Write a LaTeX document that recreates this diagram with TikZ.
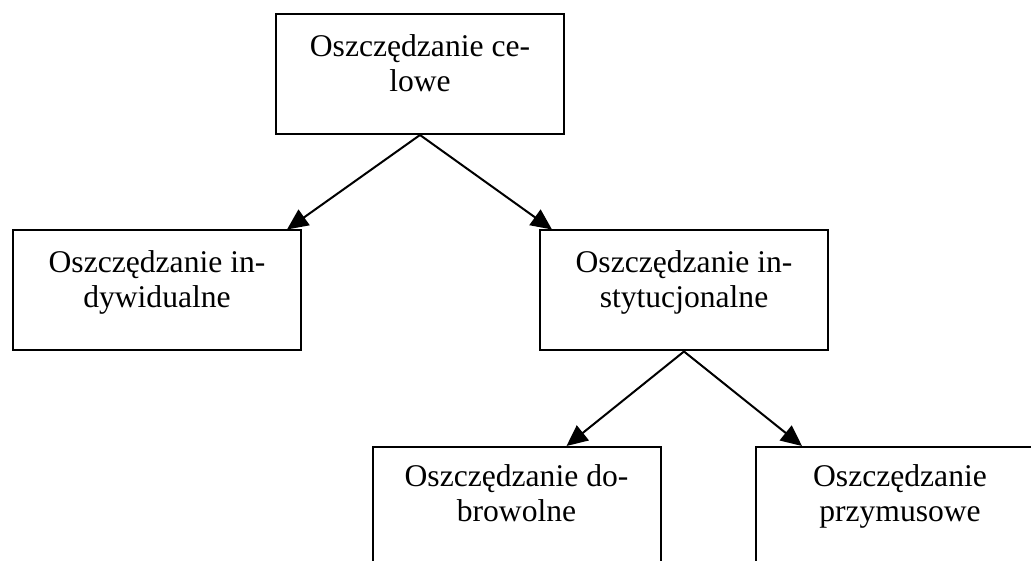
\documentclass[tikz,border=0pt]{standalone}
\usepackage{fontspec}
\setmainfont{Liberation Serif}
\usetikzlibrary{arrows.meta}
\tikzset{
  box/.style={draw, line width=2pt, minimum width=288pt, minimum height=120pt,
    align=center, text height=57pt, text depth=22pt, inner sep=0pt,
    font=\fontsize{31.6pt}{35pt}\selectfont},
  lowbox/.style={box, text depth=29pt},
  arr/.style={line width=2pt, -{Triangle[length=21pt,width=19pt]}}
}
\begin{document}
\begin{tikzpicture}[x=1pt,y=-1pt]
\useasboundingbox (0,0) rectangle (1031,561);
\begin{scope}
\clip (0,0) rectangle (1031,561);
\node[box] (top) at (420,74) {Oszczędzanie ce-\\lowe};
\node[box] (left) at (157,290.5) {Oszczędzanie in-\\dywidualne};
\node[box] (mid) at (684,290.5) {Oszczędzanie in-\\stytucjonalne};
\node[lowbox] (bl) at (516.5,507) {Oszczędzanie do-\\browolne};
\node[lowbox] (br) at (900,507) {Oszczędzanie\\przymusowe};
\draw[arr] (top.south) -- ([xshift=-15pt]left.north east);
\draw[arr] (top.south) -- ([xshift=13pt]mid.north west);
\draw[arr] (mid.south) -- ([xshift=-95pt]bl.north east);
\draw[arr] (mid.south) -- ([xshift=47pt]br.north west);
\end{scope}
\end{tikzpicture}
\end{document}
